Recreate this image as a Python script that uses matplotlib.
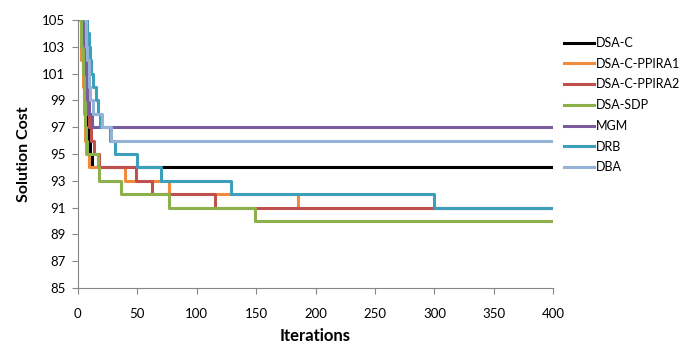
import matplotlib
matplotlib.use("Agg")
import matplotlib.pyplot as plt

plt.rcParams['font.family'] = ['Lato', 'DejaVu Sans']

# change points (iteration, cost); each cost holds until the next iteration
dsa_c_it = [0, 4, 5, 6, 7, 8, 9, 10, 12, 400]
dsa_c_cost = [112, 105, 103, 101, 99, 97, 96, 95, 94, 94]

ppira1_it = [0, 2, 3, 4, 5, 6, 7, 9, 40, 77, 185, 400]
ppira1_cost = [112, 105, 102, 100, 98, 96, 95, 94, 93, 92, 91, 91]

ppira2_it = [0, 4, 5, 6, 7, 8, 9, 11, 14, 18, 49, 62, 115, 400]
ppira2_cost = [112, 105, 103, 101, 99, 98, 97, 96, 95, 94, 93, 92, 91, 91]

sdp_it = [0, 2, 3, 4, 5, 6, 7, 8, 17, 18, 36, 77, 149, 400]
sdp_cost = [112, 105, 103, 101, 99, 97, 96, 95, 94, 93, 92, 91, 90, 90]

mgm_it = [0, 5, 6, 7, 8, 9, 12, 400]
mgm_cost = [112, 105, 103, 101, 99, 98, 97, 97]

drb_it = [0, 7, 8, 9, 10, 11, 13, 15, 17, 19, 27, 31, 50, 70, 129, 300, 400]
drb_cost = [112, 105, 104, 103, 102, 101, 100, 99, 98, 97, 96, 95, 94, 93, 92, 91, 91]

dba_it = [0, 6, 7, 8, 9, 10, 13, 20, 28, 400]
dba_cost = [112, 105, 103, 102, 100, 99, 98, 97, 96, 96]

series = [
    ("DSA-C", dsa_c_it, dsa_c_cost, "#000000"),
    ("DSA-C-PPIRA1", ppira1_it, ppira1_cost, "#F08A3C"),
    ("DSA-C-PPIRA2", ppira2_it, ppira2_cost, "#C0504D"),
    ("DSA-SDP", sdp_it, sdp_cost, "#8DB04B"),
    ("MGM", mgm_it, mgm_cost, "#7A5C9E"),
    ("DRB", drb_it, drb_cost, "#3CA0BC"),
    ("DBA", dba_it, dba_cost, "#95B3D7"),
]

fig = plt.figure(figsize=(6.89, 3.45), dpi=100)
ax = fig.add_axes([0.113, 0.165, 0.690, 0.777])

for name, it, cost, col in series:
    ax.plot(it, cost, drawstyle='steps-post', color=col, lw=2.2, label=name)

ax.set_xlim(0, 400)
ax.set_ylim(85, 105)
ax.set_xticks(range(0, 401, 50))
ax.set_yticks(range(85, 106, 2))
ax.set_xlabel("Iterations", fontsize=12, fontweight='bold', labelpad=6)
ax.set_ylabel("Solution Cost", fontsize=11.5, fontweight='bold', labelpad=8)
ax.tick_params(labelsize=9.5, color="#868686", length=4, direction='out')
ax.tick_params(axis='x', pad=10)
ax.tick_params(axis='y', pad=5)

for s in ['top', 'right']:
    ax.spines[s].set_visible(False)
for s in ['left', 'bottom']:
    ax.spines[s].set_color("#868686")

ax.legend(loc='upper left', bbox_to_anchor=(1.006, 0.965), frameon=False,
          fontsize=9, handlelength=2.4, handletextpad=0.15, labelspacing=0.7,
          borderaxespad=0.2)

fig.savefig("out.png", dpi=100)
